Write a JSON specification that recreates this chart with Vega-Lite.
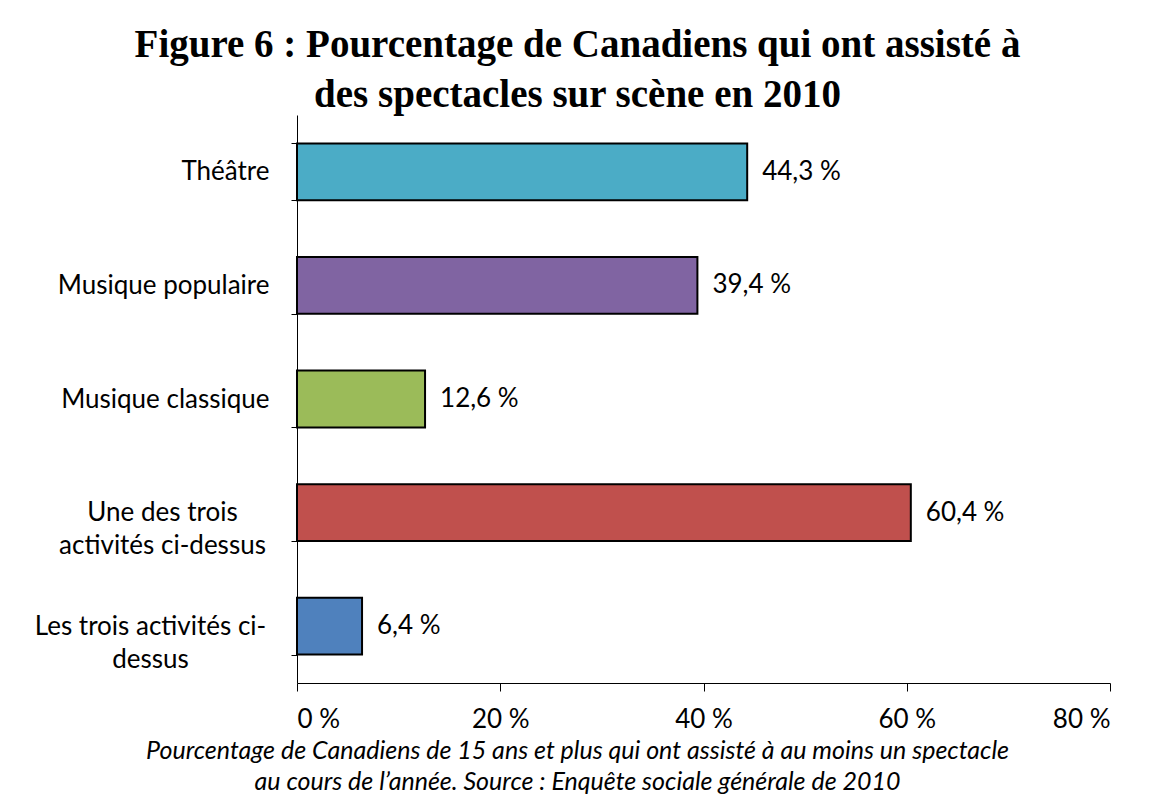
{
  "$schema": "https://vega.github.io/schema/vega-lite/v6.json",
  "autosize": {"type": "none"},
  "width": 813,
  "height": 568,
  "padding": {"left": 297, "top": 115, "right": 42, "bottom": 115},
  "background": "white",
  "title": {
    "text": ["Figure 6 : Pourcentage de Canadiens qui ont assisté à", "des spectacles sur scène en 2010"],
    "font": "Liberation Serif",
    "fontSize": 39,
    "fontWeight": "bold",
    "color": "black",
    "anchor": "middle",
    "frame": "group",
    "dx": -126,
    "lineHeight": 50,
    "offset": -13
  },
  "data": {
    "values": [
      {"categorie": "Théâtre", "pct": 44.3, "label": "44,3 %", "couleur": "#4BACC6"},
      {"categorie": "Musique populaire", "pct": 39.4, "label": "39,4 %", "couleur": "#8064A2"},
      {"categorie": "Musique classique", "pct": 12.6, "label": "12,6 %", "couleur": "#9BBB59"},
      {"categorie": "Une des trois activités ci-dessus", "pct": 60.4, "label": "60,4 %", "couleur": "#C0504D"},
      {"categorie": "Les trois activités ci-dessus", "pct": 6.4, "label": "6,4 %", "couleur": "#4F81BD"}
    ]
  },
  "encoding": {
    "y": {
      "field": "categorie",
      "type": "nominal",
      "sort": null,
      "scale": {"paddingInner": 0.5, "paddingOuter": 0.25},
      "axis": {
        "title": null,
        "tickBand": "extent",
        "domainColor": "black",
        "tickColor": "black",
        "tickSize": 6,
        "labelFont": "Lato",
        "labelFontSize": 26,
        "labelColor": "black",
        "labelLimit": 400,
        "labelLineHeight": 33,
        "labelAlign": {"condition": {"test": "datum.value == 'Une des trois activités ci-dessus' || datum.value == 'Les trois activités ci-dessus'", "value": "center"}, "value": "right"},
        "labelPadding": {"condition": [{"test": "datum.value == 'Une des trois activités ci-dessus'", "value": 129}, {"test": "datum.value == 'Les trois activités ci-dessus'", "value": 141}], "value": 22},
        "labelExpr": "datum.value == 'Une des trois activités ci-dessus' ? ['Une des trois', 'activités ci-dessus'] : datum.value == 'Les trois activités ci-dessus' ? ['Les trois activités ci-', 'dessus'] : datum.value"
      }
    },
    "x": {
      "field": "pct",
      "type": "quantitative",
      "scale": {"domain": [0, 80], "nice": false},
      "axis": {
        "values": [0, 20, 40, 60, 80],
        "grid": false,
        "domainColor": "black",
        "tickColor": "black",
        "tickSize": 8,
        "labelPadding": 15,
        "labelFont": "Lato",
        "labelFontSize": 26,
        "labelColor": "black",
        "labelExpr": "datum.value + ' %'",
        "title": ["Pourcentage de Canadiens de 15 ans et plus qui ont assisté à au moins un spectacle", "au cours de l’année. Source : Enquête sociale générale de 2010"],
        "titleFont": "Lato",
        "titleFontSize": 25,
        "titleFontStyle": "italic",
        "titleFontWeight": "normal",
        "titleColor": "black",
        "titleLineHeight": 31,
        "titleX": 280,
        "titleAnchor": "middle",
        "titlePadding": 6
      }
    }
  },
  "layer": [
    {
      "mark": {"type": "bar", "stroke": "black", "strokeWidth": 2},
      "encoding": {
        "color": {"field": "couleur", "type": "nominal", "scale": null, "legend": null}
      }
    },
    {
      "mark": {"type": "text", "align": "left", "baseline": "middle", "dx": 15, "font": "Lato", "fontSize": 26, "color": "black"},
      "encoding": {
        "text": {"field": "label"}
      }
    }
  ],
  "config": {"view": {"stroke": null}}
}
